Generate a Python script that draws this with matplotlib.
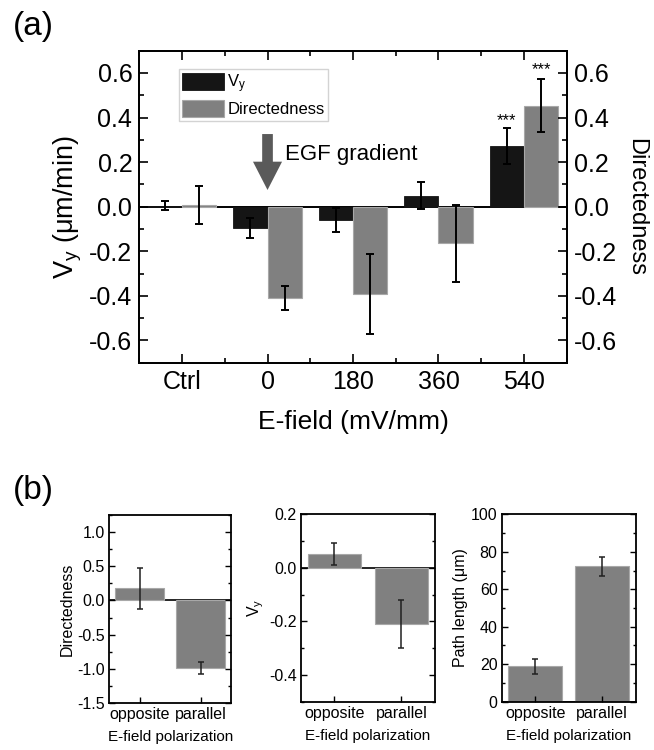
import matplotlib
matplotlib.use("Agg")
import matplotlib.pyplot as plt
from matplotlib.ticker import MultipleLocator
import numpy as np

plt.rcParams['font.family'] = ['Liberation Sans', 'DejaVu Sans']
plt.rcParams['mathtext.fontset'] = 'custom'
plt.rcParams['mathtext.rm'] = 'Liberation Sans'
plt.rcParams['mathtext.it'] = 'Liberation Sans'
plt.rcParams['axes.linewidth'] = 1.3

# (a) velocity / directedness vs. field strength
fields = ['Ctrl', '0', '180', '360', '540']
vy = [0.005, -0.095, -0.06, 0.05, 0.273]
vy_err = [0.022, 0.044, 0.054, 0.062, 0.08]
directed = [0.008, -0.41, -0.39, -0.165, 0.453]
directed_err = [0.087, 0.055, 0.18, 0.172, 0.118]
a_ticks = [-0.6, -0.4, -0.2, 0.0, 0.2, 0.4, 0.6]

# (b) polarization comparison
polar = ['opposite', 'parallel']
b_dir = [0.18, -0.99]
b_dir_err = [0.30, 0.09]
b_vy = [0.052, -0.209]
b_vy_err = [0.04, 0.09]
path_len = [18.8, 72.2]
path_err = [3.8, 5.2]
dir_ticks = [-1.5, -1.0, -0.5, 0.0, 0.5, 1.0]
vy_ticks = [-0.4, -0.2, 0.0, 0.2]
path_ticks = [0, 20, 40, 60, 80, 100]

BLACK = '#151515'
GRAY = '#808080'

fig = plt.figure(figsize=(6.54, 7.5), dpi=100)

ax = fig.add_axes([0.213, 0.5164, 0.6535, 0.416])
x = np.arange(len(fields))
w = 0.4
ekw = dict(ecolor='black', elinewidth=1.4, capsize=3, capthick=1.4)
b1 = ax.bar(x - w / 2, vy, w, color=BLACK, edgecolor=BLACK, lw=0.6,
            yerr=vy_err, error_kw=ekw, label='V$_y$')
b2 = ax.bar(x + w / 2, directed, w, color=GRAY, edgecolor='#a8a8a8', lw=0.8,
            yerr=directed_err, error_kw=ekw, label='Directedness')
ax.axhline(0, color='black', lw=1.4, zorder=0.5)
ax.set_xlim(-0.5, 4.5)
ax.set_ylim(-0.7, 0.7)
ax.set_xticks(x)
ax.set_xticklabels(fields, fontsize=18)
ax.xaxis.set_minor_locator(MultipleLocator(0.5))
ax.set_yticks(a_ticks)
ax.set_yticklabels(['%.1f' % v for v in a_ticks], fontsize=18)
ax.yaxis.set_minor_locator(MultipleLocator(0.1))
ax.tick_params(which='both', direction='in', top=True, width=1.2)
ax.tick_params(which='major', length=6.5, pad=5)
ax.tick_params(which='minor', length=3.5)
ax.set_xlabel('E-field (mV/mm)', fontsize=19, labelpad=12)
ax.set_ylabel('V$_y$ (\u03bcm/min)', fontsize=19.5, labelpad=4)

ax2 = ax.twinx()
ax2.set_ylim(-0.7, 0.7)
ax2.set_yticks(a_ticks)
ax2.set_yticklabels(['%.1f' % v for v in a_ticks], fontsize=18)
ax2.yaxis.set_minor_locator(MultipleLocator(0.1))
ax2.tick_params(which='both', direction='in', width=1.2)
ax2.tick_params(which='major', length=6.5, pad=5)
ax2.tick_params(which='minor', length=3.5)
ax2.set_ylabel('Directedness', fontsize=17, rotation=270, labelpad=22)

# significance marks above the 540 mV/mm bars
ax.text(x[4] - w / 2, vy[4] + vy_err[4] + 0.035, '***', ha='center', va='center', fontsize=12)
ax.text(x[4] + w / 2, directed[4] + directed_err[4] + 0.045, '***', ha='center', va='center', fontsize=12)

# gradient direction arrow
ax.arrow(1, 0.326, 0, -0.251, width=0.125, head_width=0.34, head_length=0.127,
         length_includes_head=True, color='#5a5a5a', lw=0)
ax.text(1.2, 0.233, 'EGF gradient', fontsize=16, va='center', ha='left')

leg = ax.legend(handles=[b1, b2], loc='upper left', bbox_to_anchor=(0.093, 0.941),
                fontsize=12, frameon=True, fancybox=False, edgecolor='#c8c8c8',
                handlelength=2.5, handleheight=1.2, handletextpad=0.2,
                borderpad=0.2, labelspacing=0.3, borderaxespad=0)
leg.get_frame().set_linewidth(1.0)

fig.text(0.02, 0.965, '(a)', fontsize=24, va='center', ha='left')
fig.text(0.02, 0.346, '(b)', fontsize=24, va='center', ha='left')

# bottom row of small panels
panels = [
    ([0.1671, 0.0627, 0.1865, 0.2507], b_dir, b_dir_err, (-1.5, 1.25), dir_ticks, 0.25, 'Directedness', '%.1f'),
    ([0.4602, 0.0644, 0.2049, 0.2499], b_vy, b_vy_err, (-0.5, 0.2), vy_ticks, 0.1, 'V$_y$', '%.1f'),
    ([0.7671, 0.0644, 0.2049, 0.2499], path_len, path_err, (0, 100), path_ticks, 10, 'Path length (\u03bcm)', '%d'),
]
for rect, vals, errs, ylim, ticks, minor, ylab, fmt in panels:
    bx = fig.add_axes(rect)
    px = np.arange(1, len(polar) + 1)
    bx.bar(px, vals, 0.8, color=GRAY, edgecolor='#a8a8a8', lw=0.8, yerr=errs,
           error_kw=dict(ecolor='#202020', elinewidth=1.1, capsize=2, capthick=1.1))
    bx.axhline(0, color='black', lw=1.2, zorder=0.5)
    bx.set_xlim(0.5, 2.5)
    bx.set_ylim(*ylim)
    bx.set_xticks(px)
    bx.set_xticklabels(polar, fontsize=11.5)
    bx.set_yticks(ticks)
    bx.set_yticklabels([fmt % t for t in ticks], fontsize=11.5)
    bx.yaxis.set_minor_locator(MultipleLocator(minor))
    bx.tick_params(which='both', direction='in', right=True, width=1.0)
    bx.tick_params(which='major', length=4, pad=3)
    bx.tick_params(which='minor', length=2.5)
    bx.set_xlabel('E-field polarization', fontsize=11, labelpad=6)
    bx.set_ylabel(ylab, fontsize=11.5, labelpad=2)

fig.savefig('out.png', dpi=100)
